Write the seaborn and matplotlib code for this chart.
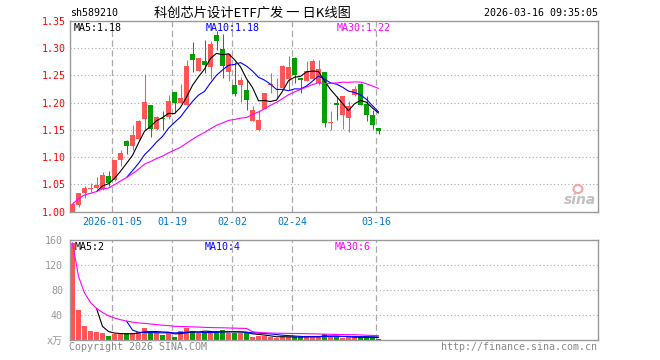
import numpy as np
import pandas as pd
import matplotlib
matplotlib.use("Agg")
import matplotlib.pyplot as plt
import matplotlib.patches as mpatches
import seaborn as sns

# ---------------- data ----------------
opens = [1.000, 1.012, 1.034, 1.042, 1.044, 1.041, 1.066, 1.058, 1.094, 1.130,
         1.121, 1.133, 1.170, 1.195, 1.152, 1.171, 1.173, 1.219, 1.200, 1.195,
         1.290, 1.259, 1.277, 1.265, 1.325, 1.299, 1.256, 1.233, 1.232, 1.224,
         1.167, 1.150, 1.189, 1.232, 1.217, 1.227, 1.244, 1.283, 1.246, 1.239,
         1.244, 1.236, 1.256, 1.163, 1.200, 1.178, 1.172, 1.215, 1.234, 1.198,
         1.178, 1.154]
closes = [1.014, 1.034, 1.044, 1.043, 1.049, 1.067, 1.053, 1.094, 1.108, 1.121,
          1.141, 1.166, 1.202, 1.152, 1.174, 1.170, 1.204, 1.200, 1.209, 1.268,
          1.279, 1.282, 1.270, 1.308, 1.314, 1.267, 1.290, 1.216, 1.242, 1.205,
          1.187, 1.168, 1.218, 1.233, 1.218, 1.268, 1.265, 1.250, 1.241, 1.259,
          1.276, 1.261, 1.162, 1.164, 1.195, 1.212, 1.194, 1.225, 1.196, 1.177,
          1.159, 1.148]
highs = [1.017, 1.035, 1.047, 1.053, 1.064, 1.073, 1.074, 1.095, 1.113, 1.132,
         1.159, 1.169, 1.253, 1.196, 1.176, 1.184, 1.215, 1.219, 1.234, 1.278,
         1.311, 1.282, 1.316, 1.314, 1.331, 1.327, 1.292, 1.274, 1.248, 1.242,
         1.194, 1.184, 1.218, 1.254, 1.245, 1.270, 1.285, 1.284, 1.246, 1.276,
         1.281, 1.278, 1.257, 1.184, 1.213, 1.212, 1.204, 1.231, 1.236, 1.213,
         1.186, 1.154]
lows = [0.998, 1.009, 1.026, 1.036, 1.041, 1.040, 1.047, 1.057, 1.084, 1.106,
        1.113, 1.132, 1.150, 1.137, 1.150, 1.150, 1.170, 1.181, 1.200, 1.195,
        1.257, 1.259, 1.254, 1.243, 1.296, 1.245, 1.239, 1.213, 1.201, 1.186,
        1.167, 1.149, 1.189, 1.218, 1.208, 1.227, 1.224, 1.236, 1.218, 1.239,
        1.244, 1.233, 1.156, 1.150, 1.169, 1.151, 1.147, 1.213, 1.196, 1.167,
        1.151, 1.143]
volumes = [156, 48.5, 22.9, 14.9, 13.3, 11.7, 7.4, 10.6, 11.2, 11.2,
           12, 13.3, 19.7, 13, 12, 8.4, 12, 5.9, 14.9, 19.2,
           14.9, 11.2, 13.3, 12, 14.9, 16.5, 11.7, 11.7, 11.7, 11.7,
           5.3, 6.9, 6.4, 5.3, 4.3, 6, 6, 5.3, 5.3, 5.3,
           7.5, 5.3, 10.7, 5.3, 5.3, 4.3, 5.3, 5.3, 4.5, 5,
           5, 1.6]
date_ticks = [7, 17, 27, 37, 51]
date_labels = ["2026-01-05", "01-19", "02-02", "02-24", "03-16"]
price_ticks = [1.00, 1.05, 1.10, 1.15, 1.20, 1.25, 1.30, 1.35]
vol_ticks = [0, 40, 80, 120, 160]
vol_tick_labels = ["x万", "40", "80", "120", "160"]

# ---------------- style ----------------
sns.set_style("white")
plt.rcParams['font.family'] = ['DejaVu Sans Mono', 'Noto Sans CJK SC']

RED = "#ff5555"
GREEN = "#00a000"
GRID = "#aaaaaa"
BORDER = "#999999"
MONO = ['DejaVu Sans Mono', 'Noto Sans CJK SC']

W, H = 660, 360
fig = plt.figure(figsize=(6.6, 3.6), dpi=100)

def px_rect(x0, y0, x1, y1):
    return [x0 / W, 1 - y1 / H, (x1 - x0) / W, (y1 - y0) / H]

axp = fig.add_axes(px_rect(70, 21, 597.5, 211.7))
axv = fig.add_axes(px_rect(70, 240.3, 597.5, 340.3))

n = len(closes)
idx = np.arange(n)
df = pd.DataFrame({"i": idx, "open": opens, "close": closes, "high": highs,
                   "low": lows, "vol": volumes})
df["up"] = df["close"] >= df["open"]
df["ma5"] = df["close"].rolling(5).mean()
df["ma10"] = df["close"].rolling(10).mean()
df["ma30"] = df["close"].rolling(30, min_periods=1).mean()
df["vma5"] = df["vol"].rolling(5).mean()
df["vma10"] = df["vol"].rolling(10).mean()
df["vma30"] = df["vol"].rolling(30, min_periods=1).mean()

XL = (-0.4167, 87.5)
bw = 5 / 6
LW = 0.8

# grid lines
for ax in (axp, axv):
    for t in date_ticks:
        ax.axvline(t - 0.37, color=GRID, lw=0.9, ls=(0, (5, 2.8)), zorder=0)
for y in price_ticks[1:-1]:
    axp.axhline(y, color=GRID, lw=0.8, ls=(0, (1, 2.2)), zorder=0)
for y in vol_ticks[1:-1]:
    axv.axhline(y, color=GRID, lw=0.8, ls=(0, (1, 2.2)), zorder=0)

# candles
colors = [RED if u else GREEN for u in df["up"]]
axp.vlines(df["i"], df["low"], df["high"], colors=colors, lw=0.75, zorder=2)
body_bottom = np.minimum(df["open"], df["close"])
body_h = np.maximum(np.abs(df["close"] - df["open"]), 0.0016)
axp.bar(df["i"], body_h, bottom=body_bottom, width=bw, color=colors,
        linewidth=0, zorder=3)

# price MAs
sns.lineplot(data=df, x="i", y="ma5", ax=axp, color="black", lw=LW, zorder=4)
sns.lineplot(data=df, x="i", y="ma10", ax=axp, color="#0000ff", lw=LW, zorder=4)
sns.lineplot(data=df, x="i", y="ma30", ax=axp, color="#ff00ff", lw=LW, zorder=4)

# volume
axv.bar(df["i"], df["vol"], width=bw, color=colors, linewidth=0, zorder=2)
sns.lineplot(data=df, x="i", y="vma5", ax=axv, color="black", lw=LW, zorder=4)
sns.lineplot(data=df, x="i", y="vma10", ax=axv, color="#0000ff", lw=LW, zorder=4)
sns.lineplot(data=df, x="i", y="vma30", ax=axv, color="#ff00ff", lw=LW, zorder=4)

# axes config
axp.set_xlim(*XL)
axp.set_ylim(1.00, 1.35)
axv.set_xlim(*XL)
axv.set_ylim(0, 160)
for ax in (axp, axv):
    ax.set_xlabel("")
    ax.set_ylabel("")
    for s in ax.spines.values():
        s.set_color(BORDER)
        s.set_linewidth(1.0)
    ax.tick_params(length=0)

axp.set_yticks(price_ticks)
axp.set_yticklabels([f"{v:.2f}" for v in price_ticks], color="#ff0000",
                    fontsize=7.2, family=MONO)
axp.tick_params(axis="y", pad=3)
axp.set_xticks([t - 0.37 for t in date_ticks])
axp.set_xticklabels(date_labels, color="#0077cc", fontsize=7.2, family=MONO)
axp.tick_params(axis="x", pad=4)

axv.set_yticks(vol_ticks)
axv.set_yticklabels(vol_tick_labels, color="#999999", fontsize=7.2, family=MONO)
axv.tick_params(axis="y", pad=5)
axv.set_xticks([])

# texts
def ftext(x, y, s, **kw):
    kw.setdefault("family", MONO)
    kw.setdefault("fontsize", 7.2)
    fig.text(x / W, 1 - y / H, s, va="center", **kw)

ftext(70, 13, "sh589210", color="black")
ftext(252, 13, "科创芯片设计ETF广发 一 日K线图", color="black", ha="center",
      family=['Noto Sans CJK SC', 'DejaVu Sans'], fontsize=9.5)
ftext(598, 13, "2026-03-16 09:35:05", color="black", ha="right")
ftext(74, 28, "MA5:1.18", color="black")
ftext(206, 28, "MA10:1.18", color="#0000ff")
ftext(337, 28, "MA30:1.22", color="#ff00ff")
ftext(75, 247, "MA5:2", color="black")
ftext(205, 247, "MA10:4", color="#0000ff")
ftext(335, 247, "MA30:6", color="#ff00ff")
ftext(69, 347, "Copyright 2026 SINA.COM", color="#888888")
ftext(597, 347, "http://finance.sina.com.cn", color="#888888", ha="right")
ftext(596, 200, "sina", color="#c0c0c0", ha="right", family="DejaVu Sans",
      fontsize=10, fontweight="bold", style="italic")
fig.add_artist(mpatches.Ellipse((578 / W, 1 - 189 / H), 9 / W, 8 / H,
                                facecolor="none", edgecolor="#f2a8a8", lw=1.5,
                                transform=fig.transFigure))

fig.savefig("out.png", dpi=100)
